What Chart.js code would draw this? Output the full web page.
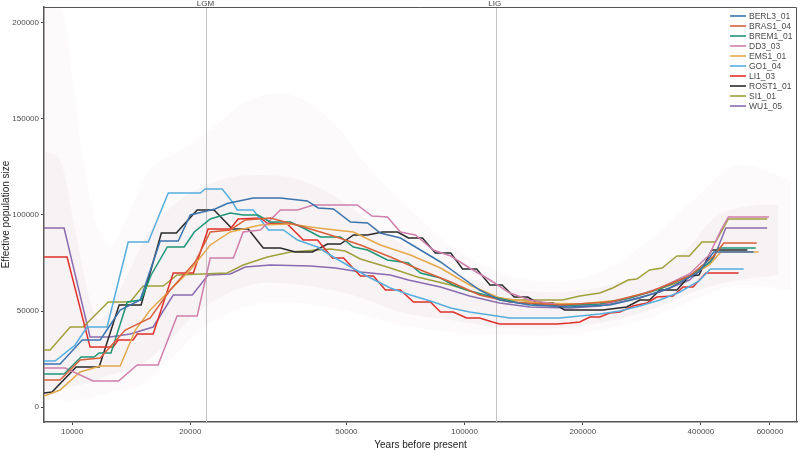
<!DOCTYPE html>
<html><head><meta charset="utf-8">
<script src="https://cdn.jsdelivr.net/npm/chart.js@4/dist/chart.umd.min.js"></script>
<style>html,body{margin:0;padding:0;background:#fff}#wrap{width:800px;height:453px}</style>
</head><body><div id="wrap"><canvas id="c" width="800" height="453"></canvas></div>
<script>
// ---- data: [years before present, effective population size] ----
const BERL3_01 = [[8480,22390],[9320,22390],[10610,34890],[11790,34890],[13260,50520],[14910,55730],[16770,86450],[18640,86450],[20000,100000],[23140,103120],[24840,106000],[28950,108850],[33930,108850],[39750,107290],[42380,103640],[46330,103120],[51200,96350],[56600,95830],[60980,90620],[68650,88020],[77200,81770],[86820,75520],[97300,68220],[109200,60930],[122800,55730],[146600,53120],[185400,52080],[234400,53120],[279600,56770],[333300,61970],[395500,70310],[431400,80720],[545000,80720]];
const BRAS1_04 = [[8480,14060],[9320,14060],[10480,24480],[11790,25500],[13660,40100],[15810,46350],[17780,60930],[20580,75520],[22490,91140],[25290,92180],[27620,97390],[32000,98430],[38160,94270],[45510,89580],[54280,84370],[64710,78120],[77200,71350],[92200,65100],[109200,58330],[130400,54680],[174700,53120],[234400,54680],[296100,59890],[374000,68220],[431400,78640],[457600,85410],[555000,85410]];
const BREM1_01 = [[8480,17190],[9540,17190],[10540,26040],[11380,26040],[11720,28120],[12560,28120],[13820,54680],[14990,55730],[15900,68750],[17480,83330],[19300,83330],[20480,91140],[22490,97910],[25290,101040],[27280,100000],[29720,100000],[32000,96350],[35980,96350],[38820,93230],[42920,88540],[48270,88540],[52090,83330],[56600,81770],[63600,76560],[71900,75000],[77200,69790],[86820,67180],[93600,63540],[101200,60930],[117800,57290],[138100,54160],[174700,52600],[221000,53640],[263800,56770],[314400,61450],[374000,68220],[423000,75520],[443800,82810],[552000,82810]];
const DD3_03 = [[8480,20310],[9600,20310],[11310,13540],[13130,13540],[14650,21870],[16560,21870],[18510,47390],[20830,47390],[22490,77600],[25760,77600],[27280,91140],[30170,92180],[33930,102600],[37500,102600],[41200,105200],[53250,105200],[58100,99470],[63600,98950],[68650,91140],[74930,89580],[83220,81770],[92200,78640],[103000,72390],[116100,66140],[130400,59370],[146600,55730],[174700,53120],[221000,53120],[263800,56770],[314400,61970],[374000,69270],[420000,79160],[450000,92180],[470000,98950],[596000,98950]];
const EMS1_01 = [[8480,5730],[9320,8850],[10480,18230],[11790,21350],[13260,21350],[14490,40100],[15810,50520],[17780,60930],[20000,71350],[22490,84370],[25290,91140],[30170,94790],[35980,95300],[42200,93230],[52090,91140],[60980,84370],[72770,79160],[86820,72390],[103000,63540],[122800,56770],[155300,54160],[196600,53640],[248600,55730],[296100,59890],[353600,65100],[420000,73950],[450000,80720],[561300,80720]];
const GO1_04 = [[8480,23960],[9050,23960],[10180,32290],[10920,41670],[12280,41670],[13900,85930],[15630,85930],[17580,111450],[21210,111450],[21830,113540],[24120,113540],[25610,106770],[26320,102600],[28950,102600],[31640,92180],[34540,92180],[37500,86970],[42200,83330],[46330,78120],[51800,72390],[57560,67180],[64710,61970],[72770,58330],[81860,55200],[92200,51560],[103000,49480],[116100,47910],[130400,46350],[174700,46350],[196600,47390],[221000,48430],[248600,50000],[279600,52600],[314400,55730],[353600,59890],[395500,65620],[423000,71870],[514100,71870]];
const LI1_03 = [[8480,78120],[9710,78120],[11110,31250],[12730,31250],[13100,34900],[14300,34900],[14650,38020],[16090,38020],[18100,69790],[20370,69790],[22210,92700],[25290,92700],[26490,97910],[30170,98430],[31400,95830],[35350,95300],[38820,86970],[42200,86970],[46050,77600],[49150,77600],[54280,68220],[58560,68220],[62860,60930],[68650,60930],[74080,54680],[81860,54680],[86820,49480],[93600,49480],[101200,46350],[109200,46350],[117800,44270],[122800,43230],[171800,43230],[185400,43750],[196600,44270],[208400,46870],[221000,46870],[234400,48960],[248600,49480],[268500,52600],[291300,54160],[309000,57290],[339600,57810],[360200,62500],[381900,62500],[411900,69790],[499100,69790]];
const ROST1_01 = [[8480,7290],[8890,7810],[10240,20830],[11720,20830],[13180,53120],[14990,53120],[16880,90620],[18430,90620],[20830,102600],[23000,102600],[25610,92700],[28100,92700],[30690,82800],[33930,82800],[37070,80720],[40960,80720],[44720,84890],[48270,84890],[52090,89580],[56600,89580],[61760,91140],[67470,91140],[71960,88020],[78080,88020],[84250,80200],[92200,80200],[98830,71870],[107300,71870],[116100,63540],[124600,63540],[133800,57290],[144800,57290],[153500,54160],[168100,54160],[179800,50520],[225000,50520],[258800,52080],[279600,55730],[296100,55730],[314400,60930],[347500,60930],[374000,68220],[395500,68750],[426300,81770],[525400,81770]];
const SI1_01 = [[8480,29690],[8790,29690],[9890,41670],[10670,41670],[12360,54680],[14060,54680],[15170,63020],[17070,63020],[18510,68750],[24840,69790],[27280,73950],[31450,78120],[35980,80720],[45510,82290],[49650,81250],[54280,77080],[64710,72390],[75850,67700],[92200,63540],[111200,58330],[132700,55730],[177700,55730],[196600,57810],[221000,59370],[238400,61970],[261000,66140],[274700,66660],[296100,71350],[318700,72390],[347500,78640],[374000,78640],[402400,85930],[436000,85930],[470000,97910],[590000,97910]];
const WU1_05 = [[8480,93230],[9540,93230],[11110,36460],[12500,36460],[14060,38020],[16090,41670],[18100,58330],[20240,58330],[22210,68750],[25290,69270],[27620,72910],[32000,73950],[40470,73430],[46880,72390],[54280,70310],[64710,68750],[71900,66140],[86820,62500],[103000,57810],[122800,54160],[146600,52080],[185400,51560],[221000,52600],[263800,55730],[314400,59890],[374000,66140],[431400,77600],[463000,93230],[590000,93230]];

// faint bootstrap cloud: outer (sparse) and inner (dense) envelopes
const outerUpper = [[8480,208300],[9320,208300],[9880,180700],[10480,139000],[11450,97400],[12500,84370],[14060,102600],[15810,123400],[18860,133800],[22490,144300],[28450,159900],[35980,162500],[45510,149500],[57560,123400],[72770,102600],[92200,84370],[122800,70310],[165600,65100],[221000,70310],[296100,86970],[395500,110400],[499100,126000],[679000,118200]];
const outerLower = [[8480,3650],[10480,3650],[12500,7810],[14910,11460],[17780,24480],[21210,40100],[28450,53120],[38160,54160],[51800,49480],[68650,42700],[92200,39060],[122800,37500],[174700,37500],[221000,40100],[296100,46350],[395500,56770],[499100,63540],[679000,60930]];
const innerUpper = [[8480,133800],[9320,128600],[10180,92180],[11110,55730],[11790,45310],[13260,60930],[15810,92180],[18860,107800],[23850,118200],[30170,120800],[38160,118200],[48270,107800],[60980,92180],[77200,79160],[97300,68750],[122800,62500],[174700,59890],[248600,65100],[353600,79160],[443800,100000],[561300,105200],[630000,105200]];
const innerLower = [[8480,8850],[10480,11460],[12500,16670],[14910,21870],[17780,34890],[21210,50520],[28450,63540],[38160,63540],[51800,58330],[68650,49480],[92200,45310],[122800,41670],[174700,41150],[221000,43750],[296100,50520],[395500,60930],[499100,66140],[630000,68750]];

const seriesNames = ['BERL3_01','BRAS1_04','BREM1_01','DD3_03','EMS1_01','GO1_04','LI1_03','ROST1_01','SI1_01','WU1_05'];
const seriesData  = [BERL3_01,BRAS1_04,BREM1_01,DD3_03,EMS1_01,GO1_04,LI1_03,ROST1_01,SI1_01,WU1_05];
const seriesColors = ['#3b74ad','#d9603b','#1e9677','#cf7fab','#e3a94b','#55aede','#e0302a','#2a2a2a','#a0a03c','#8a6cb0'];

const xTicks = [10000,20000,50000,100000,200000,400000,600000];
const yTicks = [0,50000,100000,150000,200000];
const events = [{label:'LGM', years:22000},{label:'LIG', years:120000}];

const FONT = 'Liberation Sans, Arial, sans-serif';

const framePlugin = {
  id:'frame',
  beforeDatasetsDraw(chart){
    const {ctx, chartArea:a, scales:{x}} = chart;
    ctx.save();
    ctx.strokeStyle = '#c4c4c4'; ctx.lineWidth = 1;
    events.forEach(e=>{
      const px = Math.round(x.getPixelForValue(e.years))+0.5;
      ctx.beginPath(); ctx.moveTo(px,a.top); ctx.lineTo(px,a.bottom); ctx.stroke();
    });
    ctx.restore();
  },
  afterDraw(chart){
    const {ctx, chartArea:a, scales:{x}} = chart;
    ctx.save();
    ctx.strokeStyle = '#555'; ctx.lineWidth = 1;
    ctx.beginPath();
    ctx.moveTo(a.left, a.top+0.5); ctx.lineTo(a.right-0.5, a.top+0.5); ctx.lineTo(a.right-0.5, a.bottom);
    ctx.stroke();
    ctx.fillStyle = '#444'; ctx.font = '8px '+FONT; ctx.textAlign='center'; ctx.textBaseline='alphabetic';
    events.forEach(e=>{
      const px = x.getPixelForValue(e.years);
      ctx.fillText(e.label, px-1, a.top-1);
    });
    const lx = 730, ly = 16, step = 10;
    ctx.textAlign='left'; ctx.textBaseline='middle'; ctx.font = '8.5px '+FONT;
    seriesNames.forEach((n,i)=>{
      const y = ly + i*step;
      ctx.strokeStyle = seriesColors[i]; ctx.lineWidth = 1.6;
      ctx.beginPath(); ctx.moveTo(lx, y); ctx.lineTo(lx+16, y); ctx.stroke();
      ctx.fillStyle = '#4a4a4a';
      ctx.fillText(n, lx+19, y+0.5);
    });
    ctx.restore();
  }
};

const toXY = arr => arr.map(([x,y])=>({x,y}));
const mainSets = seriesNames.map((n,i)=>({
  label:n, data: toXY(seriesData[i]),
  borderColor: seriesColors[i], backgroundColor: seriesColors[i],
  borderWidth: 1.5, pointRadius: 0, tension: 0, fill:false, order: 1
}));
const band = (data, fill, bg) => ({label:'bootstrap', data: toXY(data), borderWidth:0, borderColor:'rgba(0,0,0,0)',
  backgroundColor: bg, pointRadius:0, tension:0.35, fill, order: 5});
const bandSets = [
  band(outerUpper, '+1', 'rgba(215,190,200,0.07)'),
  band(outerLower, false, 'rgba(0,0,0,0)'),
  band(innerUpper, '+1', 'rgba(210,180,185,0.10)'),
  band(innerLower, false, 'rgba(0,0,0,0)')
];

new Chart(document.getElementById('c'), {
  type:'line',
  data:{ datasets: [...bandSets, ...mainSets] },
  options:{
    responsive:false, animation:false, devicePixelRatio:1,
    layout:{padding:{left:0,right:3,top:7,bottom:0}},
    plugins:{legend:{display:false}, tooltip:{enabled:false}, filler:{propagate:false}},
    scales:{
      x:{
        type:'logarithmic', min:8480, max:703000,
        afterBuildTicks(s){ s.ticks = xTicks.map(v=>({value:v})); },
        afterFit(s){ s.height = 31; },
        ticks:{ autoSkip:false, maxRotation:0, color:'#4d4d4d', font:{family:FONT,size:8}, padding:2,
          callback:(v)=>String(v) },
        grid:{ display:true, drawOnChartArea:false, drawTicks:true, tickLength:3, color:'#444', lineWidth:1 },
        border:{ display:true, color:'#555', width:1.5 },
        title:{ display:true, text:'Years before present', color:'#222', font:{family:FONT,size:10}, padding:{top:0,bottom:2} }
      },
      y:{
        type:'linear', min:-7800, max:208300,
        afterBuildTicks(s){ s.ticks = yTicks.map(v=>({value:v})); },
        afterFit(s){ s.width = 44; },
        ticks:{ color:'#4d4d4d', font:{family:FONT,size:8}, padding:2, callback:(v)=>String(v) },
        grid:{ display:true, drawOnChartArea:false, drawTicks:true, tickLength:3, color:'#444', lineWidth:1 },
        border:{ display:true, color:'#555', width:1.5 },
        title:{ display:true, text:'Effective population size', color:'#222', font:{family:FONT,size:10}, padding:{top:0,bottom:0} }
      }
    }
  },
  plugins:[framePlugin]
});
</script>
</body></html>
